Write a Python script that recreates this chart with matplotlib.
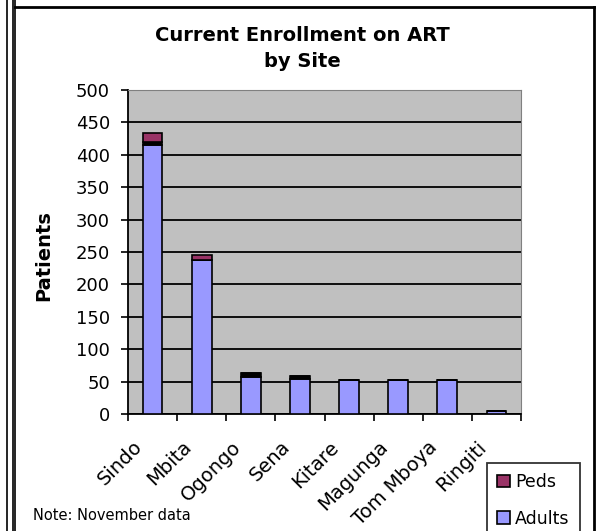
import numpy as np
import matplotlib
matplotlib.use("Agg")
import matplotlib.pyplot as plt
from matplotlib.lines import Line2D

plt.rcParams['font.family'] = ['DejaVu Sans']

sites = ['Sindo', 'Mbita', 'Ogongo', 'Sena', 'Kitare', 'Magunga', 'Tom Mboya', 'Ringiti']
adults = [415, 238, 57, 54, 52, 52, 52, 4]
other = [5, 0, 7, 5, 0, 0, 0, 0]
peds = [14, 8, 0, 0, 0, 0, 0, 0]
yticks = list(range(0, 501, 50))

fig = plt.figure(figsize=(6.01, 5.31), dpi=100)
ax = fig.add_axes([128 / 601, 1 - 414 / 531, 393 / 601, 324 / 531])
ax.set_facecolor('#C0C0C0')

x = np.arange(len(sites))
w = 0.4
b_ad = ax.bar(x, adults, w, color='#9999FF', edgecolor='black', linewidth=1.2, zorder=3, label='Adults')
ax.bar(x, other, w, bottom=adults, color='black', edgecolor='black', linewidth=1.2, zorder=3)
bottom2 = np.array(adults) + np.array(other)
b_pd = ax.bar(x, peds, w, bottom=bottom2, color='#993366', edgecolor='black', linewidth=1.2, zorder=3, label='Peds')

ax.set_xlim(-0.5, len(sites) - 0.5)
ax.set_ylim(0, 500)
ax.set_yticks(yticks)
ax.yaxis.grid(True, color='black', linewidth=1.3, zorder=1)
ax.tick_params(axis='y', labelsize=13, length=5, width=1.2, colors='black', pad=8)
ax.set_xticks(np.arange(len(sites) + 1) - 0.5)
ax.set_xticklabels([])
ax.tick_params(axis='x', length=5, width=1.2)

for s in ['top', 'right']:
    ax.spines[s].set_color('#808080')
for s in ['left', 'bottom']:
    ax.spines[s].set_linewidth(1.3)

# rotated site labels, top-right corner left of each bar
for i, name in enumerate(sites):
    ax.text(i - 0.4, -0.072, name, transform=ax.get_xaxis_transform(),
            rotation=45, rotation_mode='anchor', ha='right', va='top', fontsize=14)

ax.set_ylabel('Patients', fontsize=14, fontweight='bold')
ax.yaxis.set_label_coords(-0.19, 0.49)

fig.text(0.503, 1 - 26 / 531, 'Current Enrollment on ART\nby Site', ha='center', va='top',
         fontsize=14, fontweight='bold', linespacing=1.45)
fig.text(33 / 601, 1 - 515 / 531, 'Note: November data', ha='left', va='center', fontsize=10.5)

leg = fig.legend(handles=[b_pd, b_ad], labels=['Peds', 'Adults'], loc='upper left',
                 bbox_to_anchor=(487 / 601, 1 - 463 / 531), fontsize=12.5, frameon=True,
                 fancybox=False, edgecolor='black', handlelength=0.7, handleheight=0.7,
                 handletextpad=0.3, labelspacing=1.05, borderpad=0.6, borderaxespad=0)
leg.get_frame().set_linewidth(1.3)

# outer frame lines
for xx in [7 / 601, 12.5 / 601, 15 / 601]:
    fig.add_artist(Line2D([xx, xx], [0, 1], color='black', linewidth=1.2))
fig.add_artist(Line2D([15 / 601, 594 / 601], [1 - 7 / 531, 1 - 7 / 531], color='black', linewidth=2))
fig.add_artist(Line2D([594 / 601, 594 / 601], [0, 1 - 7 / 531], color='black', linewidth=2))

fig.savefig('out.png', dpi=100)
